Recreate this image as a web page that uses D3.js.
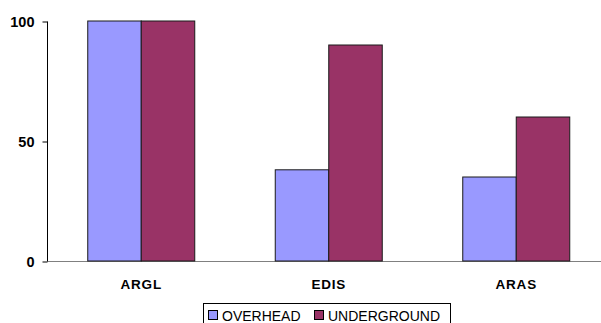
<!DOCTYPE html>
<html><head><meta charset="utf-8">
<script src="https://cdn.jsdelivr.net/npm/d3@7"></script>
<style>body{margin:0;background:#fff}svg{display:block}</style>
</head><body>
<script>
const categories = ["ARGL", "EDIS", "ARAS"];
const seriesNames = ["OVERHEAD", "UNDERGROUND"];
const overhead = [100, 38, 35];
const underground = [100, 90, 60];
const yTicks = [0, 50, 100];
const colors = ["#9999FF", "#993366"];

const W = 601, H = 323;
const svg = d3.select("body").append("svg").attr("width", W).attr("height", H);

const x0 = d3.scaleBand().domain(categories).range([47.5, 610]).paddingInner(0).paddingOuter(0);
const y = d3.scaleLinear().domain([0, 100]).range([261, 21]);
const barW = 53.5;

const data = categories.map((c, i) => ({cat: c, vals: [overhead[i], underground[i]]}));

// baseline
svg.append("line").attr("x1", 47.5).attr("x2", 601).attr("y1", y(0) + 0.5).attr("y2", y(0) + 0.5)
  .attr("stroke", "#808080").attr("stroke-width", 1);

// bars
const g = svg.append("g");
data.forEach(d => {
  const cx = x0(d.cat) + x0.bandwidth() / 2;
  d.vals.forEach((v, j) => {
    g.append("rect")
      .attr("x", cx - barW + j * barW)
      .attr("y", y(v))
      .attr("width", barW)
      .attr("height", y(0) - y(v))
      .attr("fill", colors[j])
      .attr("stroke", "#1a1a1a")
      .attr("stroke-width", 1);
  });
});

// y axis
const yAxis = d3.axisLeft(y).tickValues(yTicks).tickSize(5).tickPadding(8).tickFormat(d3.format("d"));
const ya = svg.append("g").attr("transform", "translate(47.5,0.5)").call(yAxis);
ya.select(".domain").attr("stroke", "#000").attr("d", `M0,${y(100)}V${y(0)}`);
ya.selectAll(".tick line").attr("stroke", "#000");
ya.selectAll(".tick text").attr("font-family", "Arial, 'Liberation Sans', sans-serif")
  .attr("font-size", 14.5).attr("font-weight", "bold").attr("fill", "#000");

// category labels
svg.append("g").selectAll("text").data(categories).join("text")
  .attr("x", d => x0(d) + x0.bandwidth() / 2)
  .attr("y", 289)
  .attr("text-anchor", "middle")
  .attr("font-family", "Arial, 'Liberation Sans', sans-serif")
  .attr("font-size", 13.5).attr("font-weight", "bold").attr("letter-spacing", 0.8)
  .text(d => d);

// legend
const lg = svg.append("g");
lg.append("rect").attr("x", 203.5).attr("y", 303.5).attr("width", 247).attr("height", 24)
  .attr("fill", "#fff").attr("stroke", "#000").attr("stroke-width", 1);
const lx = [208, 314];
seriesNames.forEach((s, i) => {
  lg.append("rect").attr("x", lx[i] + 0.5).attr("y", 310.5).attr("width", 9).attr("height", 9)
    .attr("fill", colors[i]).attr("stroke", "#000").attr("stroke-width", 1);
  lg.append("text").attr("x", lx[i] + 14).attr("y", 320.5)
    .attr("font-family", "Arial, 'Liberation Sans', sans-serif").attr("font-size", 14)
    .text(s);
});
</script>
</body></html>
